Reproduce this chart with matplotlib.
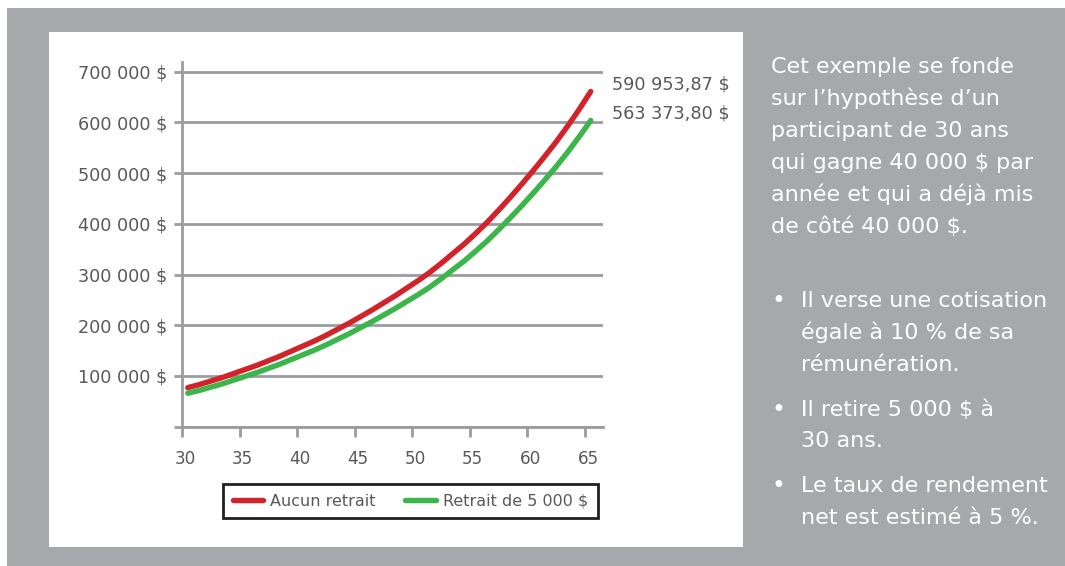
import matplotlib
matplotlib.use('Agg')
import matplotlib.pyplot as plt
import matplotlib.transforms as mtransforms
from matplotlib.patches import Rectangle

# ---------------- data ----------------
ages = list(range(30, 66))
aucun_retrait = [77, 83, 90, 97, 105, 113, 121, 130, 139, 149,
                 159, 169, 180, 192, 204, 217, 230, 244, 258, 273,
                 288, 304, 322, 341, 360, 381, 403, 427, 452, 478,
                 505, 533, 562, 593, 626, 661]            # milliers $
retrait_5000 = [66, 71.5, 78, 84.5, 92, 99.4, 106.7, 115, 123.3, 132.6,
                141.8, 151, 161.1, 172.2, 183.2, 195.2, 207.1, 220, 232.8, 246.6,
                260.3, 275, 291.6, 309.1, 326.6, 346, 366.3, 388.5, 411.6, 435.6,
                460.5, 486.3, 513, 541.6, 572, 604]       # milliers $
series_labels = ["Aucun retrait", "Retrait de 5 000 $"]
end_labels = ["590 953,87 $", "563 373,80 $"]
y_ticks = [0, 100000, 200000, 300000, 400000, 500000, 600000, 700000]
x_ticks = [30, 35, 40, 45, 50, 55, 60, 65]

para1 = ["Cet exemple se fonde",
         "sur l\u2019hypoth\u00e8se d\u2019un",
         "participant de 30 ans",
         "qui gagne 40 000 $ par",
         "ann\u00e9e et qui a d\u00e9j\u00e0 mis",
         "de c\u00f4t\u00e9 40 000 $."]
bullets = [["Il verse une cotisation", "\u00e9gale \u00e0 10 % de sa", "r\u00e9mun\u00e9ration."],
           ["Il retire 5 000 $ \u00e0", "30 ans."],
           ["Le taux de rendement", "net est estim\u00e9 \u00e0 5 %."]]

# ---------------- style ----------------
RED = '#d2232a'
GREEN = '#3cb54a'
BG = '#a7a8ab'
GRID = '#9b9c9f'
TXT = '#58595b'
plt.rcParams['font.family'] = ['DejaVu Sans']

W, H = 1065, 566
fig = plt.figure(figsize=(W / 100, H / 100), dpi=100)
fig.patch.set_facecolor('white')

def fx(px):
    return px / W

def fy(py):
    return 1 - py / H

fig.patches.append(Rectangle((fx(7), 0), 1 - fx(7), fy(8), transform=fig.transFigure,
                             facecolor=BG, edgecolor='none', zorder=0))
fig.patches.append(Rectangle((fx(49), fy(547)), (743 - 49) / W, (547 - 32) / H,
                             transform=fig.transFigure, facecolor='white',
                             edgecolor='none', zorder=1))

ax = fig.add_axes([fx(182), fy(426.7), 421 / W, (426.7 - 61.6) / H])
ax.set_facecolor('none')
ax.set_zorder(2)

x = [a + 0.5 for a in ages]
l1, = ax.plot(x, [v * 1000 for v in aucun_retrait], color=RED, lw=3.9,
              solid_capstyle='round', label=series_labels[0], zorder=3)
l2, = ax.plot(x, [v * 1000 for v in retrait_5000], color=GREEN, lw=3.9,
              solid_capstyle='round', label=series_labels[1], zorder=3)

ax.set_xlim(30, 30 + 421 / (403 / 35))
ax.set_ylim(0, 720000)
ax.set_xticks(x_ticks)
ax.set_xticklabels([str(t) for t in x_ticks])
ax.set_yticks(y_ticks)
ax.set_yticklabels(['' if t == 0 else f"{t:,}".replace(',', ' ') + " $" for t in y_ticks])

for s in ['top', 'right']:
    ax.spines[s].set_visible(False)
for s in ['left', 'bottom']:
    ax.spines[s].set_color(GRID)
    ax.spines[s].set_linewidth(2)
ax.yaxis.grid(True, color=GRID, lw=2)
ax.set_axisbelow(True)
ax.tick_params(axis='y', length=5.8, width=2, color=GRID, pad=5,
               labelsize=12.7, labelcolor=TXT)
ax.tick_params(axis='x', length=7.2, width=2, color=GRID, pad=9.5,
               labelsize=12.2, labelcolor=TXT)
shift = mtransforms.ScaledTranslation(3 / 100, 0, fig.dpi_scale_trans)
for lab in ax.get_xticklabels():
    lab.set_transform(lab.get_transform() + shift)

# end value labels
for lab, base in zip(end_labels, [90, 119]):
    fig.text(fx(612), fy(base), lab, fontsize=12.7, color=TXT, va='baseline', ha='left',
             zorder=5)

# legend
leg = ax.legend(handles=[l1, l2], loc='upper left', bbox_to_anchor=(fx(223), fy(484)),
                bbox_transform=fig.transFigure, ncol=2, frameon=True, fancybox=False,
                edgecolor='#231f20', borderaxespad=0, fontsize=11.5, handlelength=1.9,
                handletextpad=0.45, columnspacing=1.85, borderpad=0.6, framealpha=1)
leg.get_frame().set_linewidth(2)
for t in leg.get_texts():
    t.set_color(TXT)

# right-hand text
base = 73.3
for line in para1:
    fig.text(fx(771), fy(base), line, fontsize=16, color='white', va='baseline', ha='left')
    base += 32
base = 307.3
for blk in bullets:
    for i, line in enumerate(blk):
        if i == 0:
            fig.text(fx(778), fy(base + 1), "\u2022", fontsize=17, color='white',
                     va='baseline', ha='center')
        fig.text(fx(801), fy(base), line, fontsize=16, color='white', va='baseline', ha='left')
        base += 31.7
    base += 13.3

fig.savefig('out.png', dpi=100, facecolor=fig.get_facecolor())
